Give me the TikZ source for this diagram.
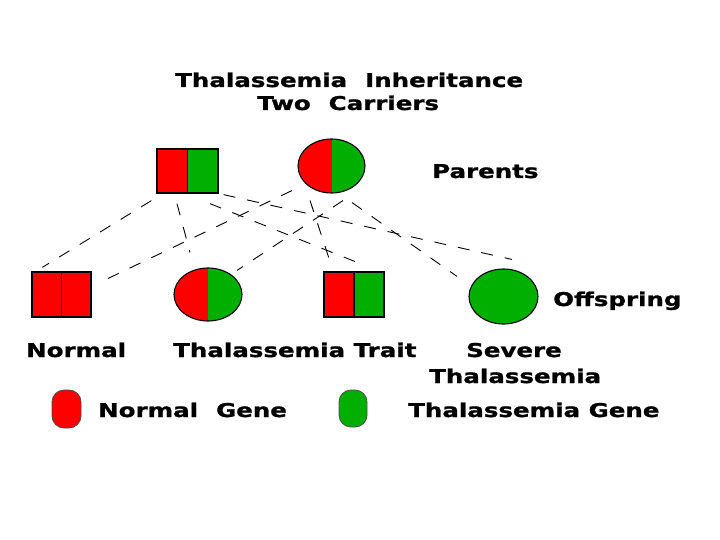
\documentclass[tikz,border=0pt]{standalone}
\usepackage{fontspec}
\usetikzlibrary{shapes.geometric,calc}
\newfontfamily\pixfont{DejaVu Sans Bold}[FakeStretch=1.29,FakeBold=1.2]
\definecolor{gred}{RGB}{255,0,0}
\definecolor{ggreen}{RGB}{0,175,0}
\newcommand{\dsp}{\hspace{18pt}}
\begin{document}
\begin{tikzpicture}[x=1pt,y=-1pt,
  lbl/.style={font=\pixfont\fontsize{19}{22}\selectfont, inner sep=0pt, anchor=base west, text=black},
  pairbox/.style 2 args={draw=black, line width=1.3pt, rectangle, inner sep=0pt,
    path picture={
      \fill[#1] (path picture bounding box.south west) rectangle (path picture bounding box.north);
      \fill[#2] (path picture bounding box.south) rectangle (path picture bounding box.north east);
      \draw[line width=1.3pt] (path picture bounding box.south) -- (path picture bounding box.north);}},
  pairoval/.style 2 args={draw=black, line width=1.1pt, ellipse, inner sep=0pt,
    path picture={
      \fill[#1] (path picture bounding box.south west) rectangle (path picture bounding box.north);
      \fill[#2] (path picture bounding box.south) rectangle (path picture bounding box.north east);}},
  gene/.style={draw=black!70, line width=0.8pt, rectangle, rounded corners=12pt, inner sep=0pt},
  link/.style={draw=black, line width=0.9pt, dash pattern=on 12pt off 12pt}
]
\fill[white] (0,0) rectangle (720,540);
\useasboundingbox (0,0) rectangle (720,540);

% titles
\node[lbl] (t1) at (175,87) {Thalassemia\dsp Inheritance};
\node[lbl] (t2) at (257,110) {Two\dsp Carriers};

% parents
\node[pairbox={gred}{ggreen}, minimum width=61pt, minimum height=44pt] (father) at (187.5,171) {};
\node[pairoval={gred}{ggreen}, minimum width=67pt, minimum height=54pt] (mother) at (331.5,166) {};
\node[lbl] (parents) at (432,178) {Parents};

% offspring
\node[pairbox={gred}{gred}, minimum width=59pt, minimum height=45pt] (off1) at (61.5,294.5) {};
\node[pairoval={gred}{ggreen}, minimum width=68pt, minimum height=53pt] (off2) at (208,294.5) {};
\node[pairbox={gred}{ggreen}, minimum width=60pt, minimum height=45pt] (off3) at (354,294.5) {};
\node[pairoval={ggreen}{ggreen}, minimum width=69pt, minimum height=55pt] (off4) at (503.5,296.5) {};
\node[lbl] (offspring) at (553,306) {Offspring};

% connectors
\draw[link] ($(father.south west)+(-5,7)$) -- ($(off1.north west)+(11,-4)$);
\draw[link] ($(father.south)+(-10.5,10)$) -- ($(off2.north)+(-18,-15)$);
\draw[link] ($(father.south)+(22.5,10)$) -- ($(off3.north)+(8,-7)$);
\draw[link] ($(father.south east)+(5,1)$) -- ($(off4.north)+(8.5,-9)$);
\draw[link] ($(mother.south)+(-39.5,-3)$) -- ($(off1.east)+(9,-12.5)$);
\draw[link] ($(mother.south)+(11.5,7)$) -- ($(off2.north)+(29,3)$);
\draw[link] ($(mother.south)+(-21.5,7)$) -- ($(off3.north)+(-24,-10)$);
\draw[link] ($(mother.south)+(20.5,9)$) -- ($(off4.north)+(-46.5,8)$);

% captions
\node[lbl] (cnormal) at (26,357) {Normal};
\node[lbl] (ctrait) at (173,357) {Thalassemia Trait};
\node[lbl] (csevere) at (466,357) {Severe};
\node[lbl] (cthal) at (429,383) {Thalassemia};

% legend
\node[gene, fill=gred, minimum width=29pt, minimum height=38pt] (gred) at (66.5,409) {};
\node[lbl] (lnormal) at (98,417) {Normal\dsp Gene};
\node[gene, fill=ggreen, minimum width=28pt, minimum height=37pt] (ggreen) at (353,408.5) {};
\node[lbl] (lthal) at (408,417) {Thalassemia Gene};
\end{tikzpicture}
\end{document}
